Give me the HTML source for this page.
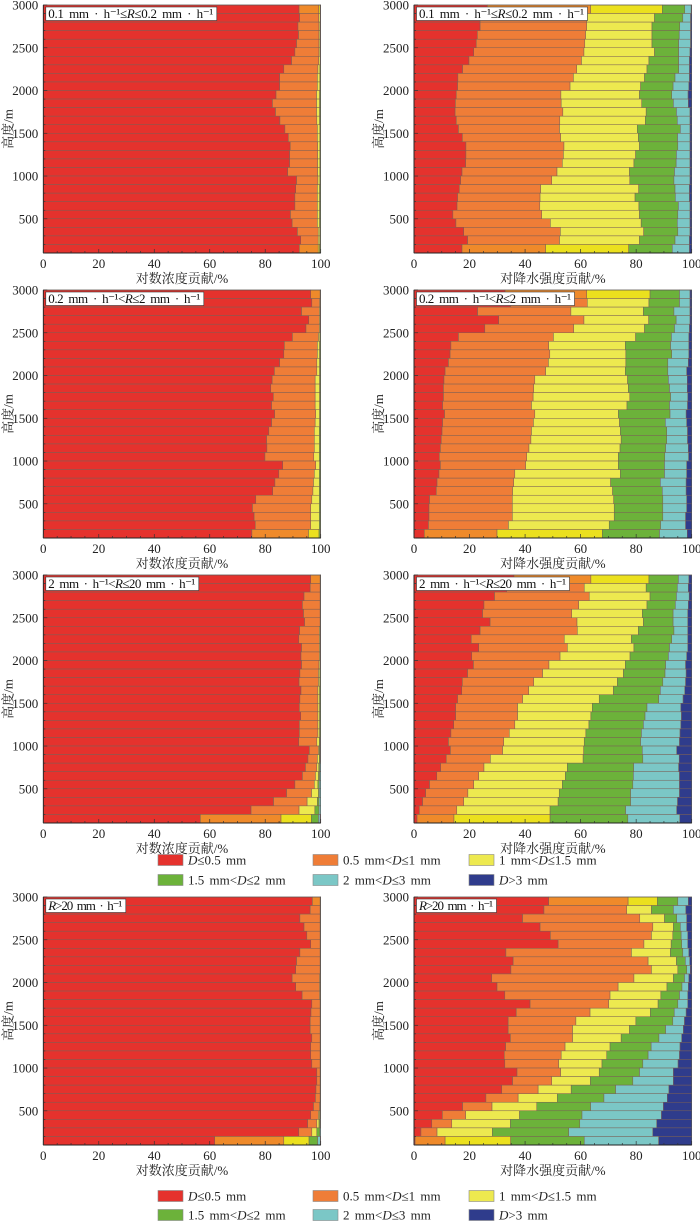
<!DOCTYPE html>
<html><head><meta charset="utf-8"><style>
html,body{margin:0;padding:0;background:#fff;}
svg{display:block;font-family:"Liberation Serif","Noto Serif CJK SC",serif;}
</style></head><body>
<svg id="chart" width="700" height="1223" viewBox="0 0 700 1223" xmlns="http://www.w3.org/2000/svg"></svg>
<script>
const altitudes = [2900,2800,2700,2600,2500,2400,2300,2200,2100,2000,1900,1800,1700,1600,1500,1400,1300,1200,1100,1000,900,800,700,600,500,400,300,200,100];
const yTicks = [500,1000,1500,2000,2500,3000];
const xTicks = [0,20,40,60,80,100];
const classNames = ["D≤0.5 mm","0.5 mm<D≤1 mm","1 mm<D≤1.5 mm","1.5 mm<D≤2 mm","2 mm<D≤3 mm","D>3 mm"];

const p1L_red=[92.2,92.4,91.8,92,91.3,90.7,89.5,86.7,85.2,85.2,83.9,82.6,83.7,85.3,87.1,88.3,89,88.8,88.8,88.1,91.3,91,90.7,90.7,89.1,89.7,91.6,92.8,92.3];
const p1L_orange=[99.3,99.3,99.4,99.4,99.4,99.4,99.3,99.0,98.8,98.8,98.5,98.5,98.5,98.6,98.8,98.8,98.9,98.9,98.9,98.9,99.0,98.8,98.8,98.8,98.8,98.8,99.1,99.1,99.1];
const p1L_yellow=[99.8,99.8,99.8,99.8,99.8,99.8,99.8,99.7,99.7,99.7,99.6,99.6,99.6,99.6,99.7,99.7,99.7,99.7,99.7,99.7,99.7,99.6,99.6,99.6,99.6,99.6,99.7,99.7,99.6];
const p1L_green=[99.95,99.95,99.95,99.95,99.95,99.95,99.95,99.95,99.95,99.95,99.95,99.95,99.95,99.95,99.95,99.95,99.95,99.95,99.95,99.95,99.95,99.95,99.95,99.95,99.95,99.95,99.95,99.95,99.95];
const p1L_cyan=[100,100,100,100,100,100,100,100,100,100,100,100,100,100,100,100,100,100,100,100,100,100,100,100,100,100,100,100,100];

const p1R_red=[26.4,23.8,23.8,22.8,22.4,21.5,19.8,17.5,15.8,15.7,15.2,14.9,14.8,15.2,16,17.4,18.7,18.7,18.6,17.3,16.8,16.3,15.7,15.5,14,15.1,17.9,19.3,17.3];
const p1R_orange=[63.6,62.2,62.2,61.8,61.5,61.2,60.3,58.6,57.4,56.2,52.9,53,53.6,52.5,52.4,52.8,54,53.8,53.4,51.5,49.6,45.6,45.4,45.3,46,49.1,52.7,52.4,47.4];
const p1R_yellow=[89.4,86.6,85.7,85.7,85.7,86.6,84.6,83.9,83,81.6,81.2,82,83.6,83.3,80.4,80.8,81.2,79.8,79.2,77.6,77.7,80.9,79.6,81,81.2,81.8,82.7,81.2,77.3];
const p1R_green=[97.5,96.8,95.7,95.5,95.3,95.3,95.3,95.3,94,93.3,92.8,93.4,94.5,94.8,95.9,94.9,95,94.5,94.4,93.8,93.6,94,94.1,95.2,95,94.8,95,94,93];
const p1R_cyan=[99.8,99.6,99.6,99.6,99.6,99.4,99.2,99.2,99.2,99,98.7,98.8,99.4,99.4,99.4,99.4,99.4,99.4,99.4,99.4,99.4,99.2,99.2,99.4,99.4,99.4,99.4,99.2,99.2];

const p2L_red=[96.4,96.8,93.1,95.7,94.7,89.8,86.9,86.7,85.2,83.3,82.5,82,82.9,82.3,83.4,82.3,81.3,80.5,80.6,79.9,86.3,84.9,83.5,82.7,76.6,75.4,76,76.4,75.2];
const p2L_orange=[99.8,99.6,99.5,99.5,99.5,99.2,98.8,98.8,98.6,98.6,98,98,98,98,98.2,98,97.7,97.7,97.7,97.5,98.2,97.7,97.4,97.2,96.8,96.4,96.4,96.4,95.6];
const p2L_yellow=[99.9,99.9,99.8,99.8,99.8,99.7,99.6,99.6,99.6,99.6,99.6,99.6,99.6,99.6,99.6,99.6,99.5,99.5,99.5,99.5,99.6,99.5,99.5,99.5,99.5,99.5,99.5,99.5,99.4];
const p2L_green=[99.95,99.95,99.95,99.95,99.95,99.95,99.95,99.95,99.95,99.95,99.95,99.95,99.95,99.95,99.95,99.95,99.95,99.95,99.95,99.95,99.95,99.95,99.95,99.95,99.95,99.95,99.95,99.95,99.9];
const p2L_cyan=[100,100,100,100,100,100,100,100,100,100,100,100,100,100,100,100,100,100,100,100,100,100,100,100,100,100,100,100,100];

const p2R_red=[32.8,34.8,22.9,30.5,25.5,16,13.3,13,12.4,11.2,10.8,10.6,10.6,10.3,11,10.3,10.1,9.8,9.5,9.1,9.5,9,8.3,8,5.6,5.4,5.4,5.2,3.7];
const p2R_orange=[62.2,62.4,56.5,61.2,57.5,50.2,48.5,48.9,48.4,47.4,43.5,43.1,42.9,42.3,43.5,43,42.3,42.1,41.4,40.6,40.2,36.3,35.9,35.5,35.4,35.4,35.4,34,29.9];
const p2R_yellow=[85,84.6,82.6,84.5,83,79.8,76.1,76.3,76.3,76.1,76.9,77.2,77.7,76.7,73.6,74,74.3,74.6,74.2,73.6,73.6,74.3,70.8,71.5,71.9,72.1,72.1,70.3,67.8];
const p2R_green=[95.6,95.6,93.6,94.4,93.8,92.7,92.4,92.8,91.4,91.4,91.6,92,92.4,92,92.2,90.5,91,91,90.6,90.3,90.2,90.2,88.7,89.4,89.6,89.6,89.6,88.8,88.4];
const p2R_cyan=[99.4,99.4,99.4,99.4,99.2,99,99,99,98.8,98.2,98.4,98.4,98.6,98.5,98,98.2,98.5,98.5,98.8,98.9,98.2,98.2,98,98,98.2,98.2,97.8,97.8,98.4];

const p3L_red=[96.4,96.2,94,93.4,93.8,94.2,92.4,92.1,93.1,92.9,93.1,92.5,92.2,92.9,92.5,92.3,92.8,92.3,92.3,92.1,95.9,95.4,94.5,93.4,90.7,87.7,83,74.9,56.6];
const p3L_orange=[99.8,99.8,99.8,99.8,99.8,99.8,99.5,99.5,99.5,99.5,99.4,99.2,99.2,99,99,99,99,99,99,98.6,99.2,98.8,98.6,98.1,97.7,96.7,95.1,92.2,85.7];
const p3L_yellow=[99.9,99.9,99.9,99.9,99.9,99.9,99.8,99.8,99.8,99.8,99.8,99.7,99.7,99.6,99.6,99.6,99.6,99.6,99.6,99.5,99.5,99.5,99.3,99.2,99,99.2,98.8,97.9,96.6];
const p3L_green=[99.95,99.95,99.95,99.95,99.95,99.95,99.95,99.95,99.95,99.95,99.95,99.95,99.95,99.95,99.95,99.95,99.95,99.95,99.95,99.8,99.8,99.8,99.7,99.6,99.5,99.5,99.4,99.4,99.2];
const p3L_cyan=[100,100,100,100,100,100,100,100,100,100,100,100,100,100,100,100,100,100,100,100,100,100,100,100,100,100,100,100,99.8];

const p3R_red=[36,33.4,29,25.2,24.7,27.4,23.8,20.6,23.3,20.8,21.4,19.3,17.4,17.2,15.7,15,15,14.3,13.3,12.4,13.1,11.6,9.6,8.2,5.6,4.2,3.1,1.9,1.1];
const p3R_orange=[63.7,61.3,63.1,59.3,56.8,58.7,58.8,54.1,55.2,52.6,48.6,46.3,43.1,41.3,39.1,37.3,37.3,36.3,34.3,32.3,31.9,27.5,25.2,23.3,21.5,19.4,17.9,15.4,14.4];
const p3R_yellow=[84.6,83.6,85,83.9,82.2,82.6,80.8,78.3,79.2,77.8,76.1,75.4,73.2,71.8,66.7,64.2,63.7,63,61.9,61.3,61.1,60.9,55.2,54.5,53.4,52.3,51.9,49,49];
const p3R_green=[95.2,94.8,94.5,94.1,93.3,93.3,93.6,92.8,92,91.6,90.6,90.4,89.6,88.7,88.1,83.9,83.2,82.6,81.9,81.6,82.2,82.4,79.1,79,78.8,78,78,76.2,77];
const p3R_cyan=[99,98.8,99.1,98.8,98.6,98.6,98.6,98.6,98.6,98.2,97.8,98,97.8,97.5,96.9,96.1,96.3,96.1,95.8,95.6,94.6,95.5,95.3,95.6,95.6,95.6,94.9,94.6,95.7];

const p4L_red=[97,96.2,92.5,94,95,96.4,92.5,91.3,91,89.7,91,93.3,96.8,96.5,96.2,96.2,96.8,96.4,96.4,96.8,98.6,98.6,98.3,98.1,97.4,96.4,95.3,92.1,61.8];
const p4L_orange=[99.8,99.8,99.8,99.8,99.8,99.8,99.8,99.8,99.8,99.6,99.6,99.6,99.8,99.8,99.8,99.8,99.8,99.8,99.8,99.8,99.8,99.8,99.8,99.8,99.6,99.2,98.6,96.8,86.7];
const p4L_yellow=[99.9,99.9,99.9,99.9,99.9,99.9,99.9,99.9,99.9,99.9,99.9,99.9,99.9,99.9,99.9,99.9,99.9,99.9,99.9,99.9,99.9,99.9,99.9,99.9,99.8,99.6,99.4,98.6,95.8];
const p4L_green=[99.95,99.95,99.95,99.95,99.95,99.95,99.95,99.95,99.95,99.95,99.95,99.95,99.95,99.95,99.95,99.95,99.95,99.95,99.95,99.95,99.95,99.95,99.95,99.95,99.9,99.9,99.8,99.7,98.9];
const p4L_cyan=[100,100,100,100,100,100,100,100,100,100,100,100,100,100,100,100,100,100,100,100,100,100,100,100,100,100,100,100,99.9];

const p4R_red=[48.5,46.8,39.1,45.4,49.1,51.9,33.1,35.7,34.9,28,29.9,32.7,41.8,36.8,33.9,33.9,34.7,33,32.5,32.7,37.1,35.5,31.6,25.9,17.5,10.2,6.4,2.5,0.4];
const p4R_orange=[77.1,76.6,81.3,86,85.5,82.8,78.3,84.3,85.5,79.2,73.5,70.6,70.1,63.4,58.3,57.1,57.1,54.4,53,52.1,52.8,49.6,44.7,37.5,28.1,18.6,13.6,8.3,11.2];
const p4R_yellow=[87.6,85.5,90.2,93.4,93.2,92.6,92.3,94.5,95,93.4,91.1,88.9,87.9,85.1,79.9,77.6,74.6,70.6,69.4,67.7,66.7,63.5,56.6,51.6,44.2,38,34.7,28.2,34.8];
const p4R_green=[95,93.4,94.6,95.9,96.2,96.4,96.8,97.7,98.2,97.4,96.5,95.6,95,93.7,93.2,90.6,88.2,85.4,84.3,82.4,81.2,78.8,72.6,68.4,63.6,60.5,59.7,55.7,61.3];
const p4R_cyan=[98.8,97.9,98.2,98.2,98.6,98.6,99,99.3,99.5,99,98.8,98.6,98.6,98,97.4,97,96.4,95.8,95.6,95.1,93.4,93.4,91.8,91.2,89.8,89.1,87.4,86,88.1];

const NS="http://www.w3.org/2000/svg";
const svg=document.getElementById('chart');
const COLORS=["#e5322d","#ef7d37","#ede94f","#6cb23a","#7bc7c6","#2f3c8c"];
const COLORS_EDGE=["#e5322d","#ef8a2a","#ebe01e","#6cb23a","#7bc7c6","#2f3c8c"];
function mk(tag,attrs,parent){const e=document.createElementNS(NS,tag);for(const k in attrs)e.setAttribute(k,attrs[k]);(parent||svg).appendChild(e);return e;}

const panels=[
 {id:'p1-left',x0:43.3,x1:320.7,top:5,cum:[p1L_red,p1L_orange,p1L_yellow,p1L_green,p1L_cyan],label:'0.1 mm · h⁻¹≤R≤0.2 mm · h⁻¹',lw:171,xt:'对数浓度贡献/%'},
 {id:'p1-right',x0:414,x1:691.7,top:5,cum:[p1R_red,p1R_orange,p1R_yellow,p1R_green,p1R_cyan],label:'0.1 mm · h⁻¹≤R≤0.2 mm · h⁻¹',lw:171,xt:'对降水强度贡献/%'},
 {id:'p2-left',x0:43.3,x1:320.7,top:290,cum:[p2L_red,p2L_orange,p2L_yellow,p2L_green,p2L_cyan],label:'0.2 mm · h⁻¹<R≤2 mm · h⁻¹',lw:158,xt:'对数浓度贡献/%'},
 {id:'p2-right',x0:414,x1:691.7,top:290,cum:[p2R_red,p2R_orange,p2R_yellow,p2R_green,p2R_cyan],label:'0.2 mm · h⁻¹<R≤2 mm · h⁻¹',lw:158,xt:'对降水强度贡献/%'},
 {id:'p3-left',x0:43.3,x1:320.7,top:575,cum:[p3L_red,p3L_orange,p3L_yellow,p3L_green,p3L_cyan],label:'2 mm · h⁻¹<R≤20 mm · h⁻¹',lw:153,xt:'对数浓度贡献/%'},
 {id:'p3-right',x0:414,x1:691.7,top:575,cum:[p3R_red,p3R_orange,p3R_yellow,p3R_green,p3R_cyan],label:'2 mm · h⁻¹<R≤20 mm · h⁻¹',lw:153,xt:'对降水强度贡献/%'},
 {id:'p4-left',x0:43.3,x1:320.7,top:897,cum:[p4L_red,p4L_orange,p4L_yellow,p4L_green,p4L_cyan],label:'R>20 mm · h⁻¹',lw:80,xt:'对数浓度贡献/%'},
 {id:'p4-right',x0:414,x1:691.7,top:897,cum:[p4R_red,p4R_orange,p4R_yellow,p4R_green,p4R_cyan],label:'R>20 mm · h⁻¹',lw:80,xt:'对降水强度贡献/%'}
];
const H=248;
panels.forEach(p=>{
  const g=mk('g',{});
  
  
  const xs=v=>p.x0+(v/100)*(p.x1-p.x0);
  const ys=a=>p.top+(3000-a)/2900*H;
  const bot=p.top+H;
  altitudes.forEach((alt,i)=>{
    const yt=Math.max(ys(alt+100),p.top), yb=ys(alt);
    const edge=(i===0||i===altitudes.length-1);
    for(let k=0;k<6;k++){
      const s=k===0?0:p.cum[k-1][i], e=k===5?100:p.cum[k][i];
      if(e-s<=0) continue;
      const r=mk('rect',{x:xs(s),y:yt,width:xs(e)-xs(s),height:yb-yt,fill:(edge?COLORS_EDGE:COLORS)[k],stroke:'#7a5f55','stroke-width':0.5},g);
      
      
    }
  });
  mk('rect',{x:p.x0,y:p.top,width:p.x1-p.x0,height:H,fill:'none',stroke:'#555','stroke-width':0.6},g);
  mk('line',{x1:p.x0,y1:p.top,x2:p.x0,y2:bot,stroke:'#222','stroke-width':0.9},g);
  mk('line',{x1:p.x0,y1:bot,x2:p.x1,y2:bot,stroke:'#222','stroke-width':0.9},g);
  for(let v=0;v<=100;v+=5){const major=v%20===0;mk('line',{x1:xs(v),y1:bot,x2:xs(v),y2:bot-(major?4:2),stroke:'#333','stroke-width':0.7},g);}
  for(let a=100;a<=3000;a+=100){const major=a%500===0;mk('line',{x1:p.x0,y1:ys(a),x2:p.x0+(major?4:2),y2:ys(a),stroke:'#333','stroke-width':0.7},g);}
  xTicks.forEach(v=>{const t=mk('text',{x:xs(v),y:bot+15,'text-anchor':'middle','font-size':13,fill:'#222'},g);t.textContent=v;
    
    });
  yTicks.forEach(a=>{const t=mk('text',{x:p.x0-5,y:ys(a)+4.5,'text-anchor':'end','font-size':13,fill:'#222'},g);t.textContent=a;
    
    });
  const xt=mk('text',{x:(p.x0+p.x1)/2,y:bot+30,'text-anchor':'middle','font-size':13,fill:'#222'},g);xt.textContent=p.xt;
  
  
  const cy=p.top+H/2, cx=p.x0-31;
  const yt=mk('text',{x:cx,y:cy,'text-anchor':'middle','font-size':13,fill:'#222',transform:`rotate(-90 ${cx} ${cy})`},g);yt.textContent='高度/m';
  
  
  mk('rect',{x:p.x0+2.5,y:p.top+2,width:p.lw,height:13.5,fill:'#fff',stroke:'#333','stroke-width':0.6},g);
  const lb=mk('text',{x:p.x0+5,y:p.top+13,'font-size':13,'word-spacing':2.5,fill:'#111',textLength:p.lw-6,lengthAdjust:'spacing'},g);
  
  
  const parts=p.label.split('R');
  const t1=mk('tspan',{},lb);t1.textContent=parts[0];
  const t2=mk('tspan',{'font-style':'italic'},lb);t2.textContent='R';
  const t3=mk('tspan',{},lb);t3.textContent=parts[1];
});
[[860,880],[1196,1215]].forEach((rows,li)=>{
  const lg=mk('g',{});
  
  
  const colX=[158,313,469];
  classNames.forEach((name,k)=>{
    const row=Math.floor(k/3), col=k%3;
    const y=rows[row];
    const e=mk('g',{},lg);
    
    
    mk('rect',{x:colX[col],y:y-5.5,width:25,height:11,fill:COLORS[k],stroke:'#888','stroke-width':0.6},e);
    const t=mk('text',{x:colX[col]+30,y:y+4.5,'font-size':13,'word-spacing':2,fill:'#222'},e);
    const idx=name.indexOf('D');
    const a=mk('tspan',{},t);a.textContent=name.slice(0,idx);
    const b=mk('tspan',{'font-style':'italic'},t);b.textContent='D';
    const c=mk('tspan',{},t);c.textContent=name.slice(idx+1);
  });
});
</script>
</body></html>
